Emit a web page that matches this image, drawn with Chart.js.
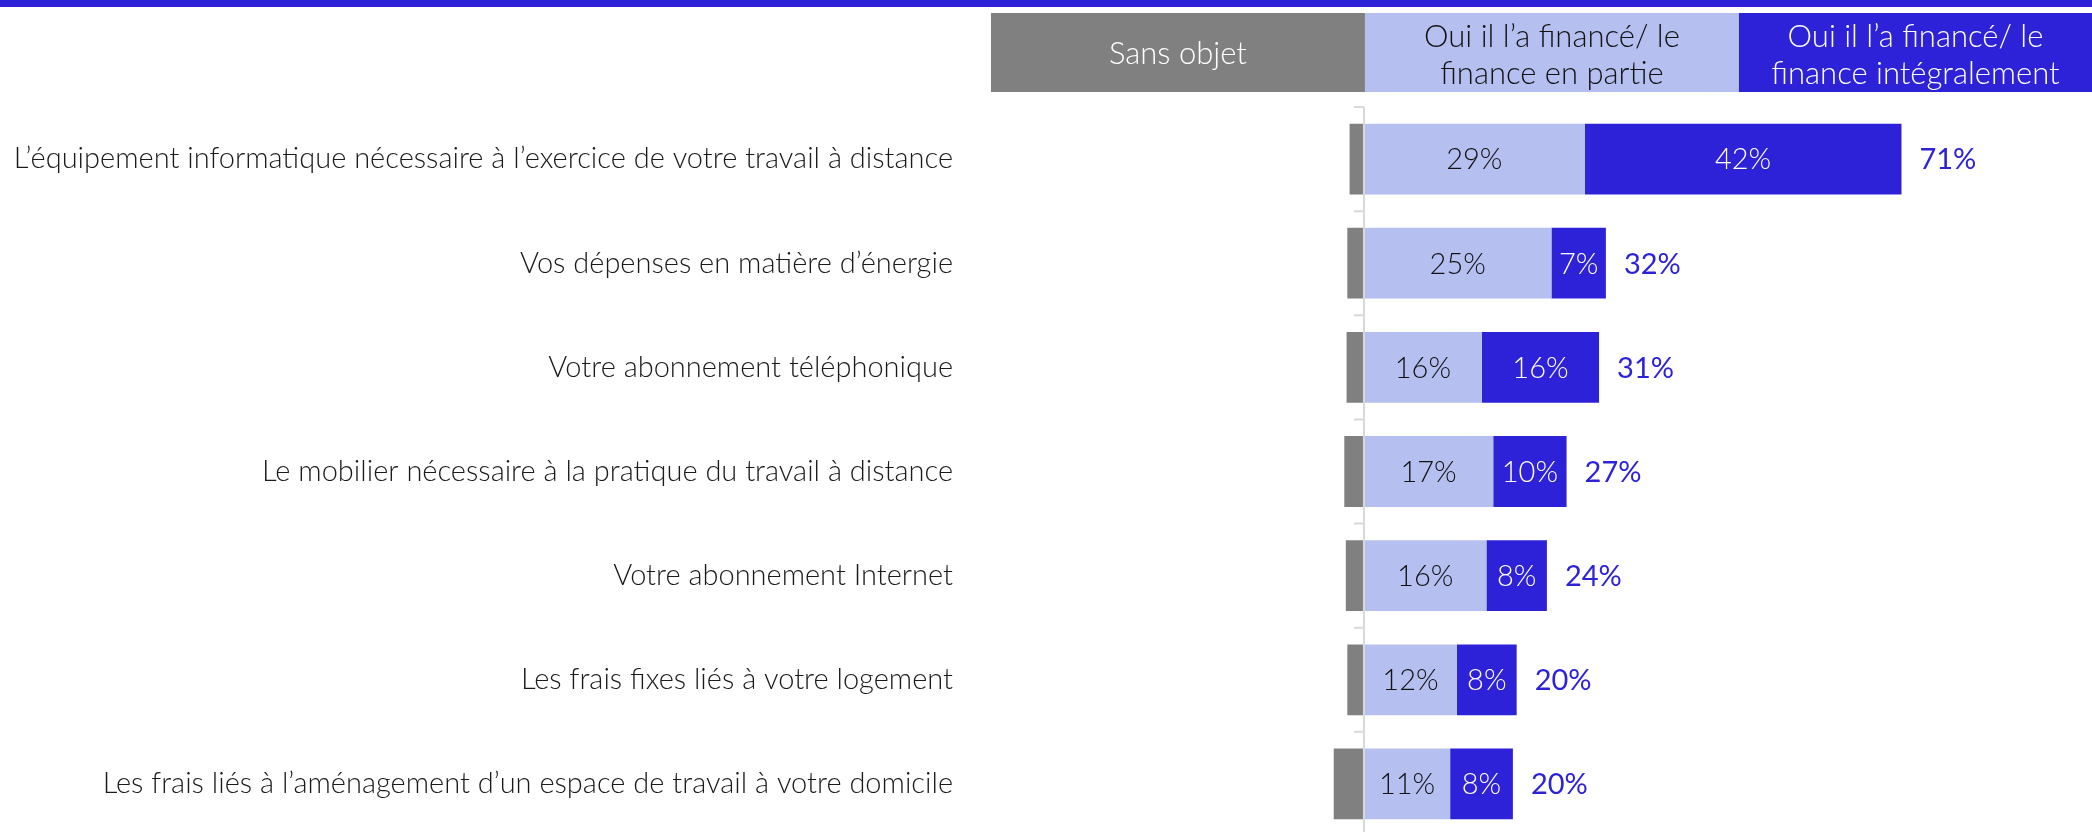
<!DOCTYPE html>
<html lang="fr">
<head>
<meta charset="utf-8">
<script src="https://cdn.jsdelivr.net/npm/chart.js@4/dist/chart.umd.min.js"></script>
<style>
  html, body { margin: 0; padding: 0; background: #fff; overflow: hidden; }
  #wrap { width: 2092px; height: 832px; overflow: hidden; }
</style>
</head>
<body>
<div id="wrap"><canvas id="financeChart" width="2092" height="840"></canvas></div>
<script>
const categories = [
  'L’équipement informatique nécessaire à l’exercice de votre travail à distance',
  'Vos dépenses en matière d’énergie',
  'Votre abonnement téléphonique',
  'Le mobilier nécessaire à la pratique du travail à distance',
  'Votre abonnement Internet',
  'Les frais fixes liés à votre logement',
  'Les frais liés à l’aménagement d’un espace de travail à votre domicile'
];
const seriesNames = [
  'Sans objet',
  'Oui il l’a financé/ le finance en partie',
  'Oui il l’a financé/ le finance intégralement'
];
// header text, one array of lines per series
const headerLines = [
  ['Sans objet'],
  ['Oui il l’a financé/ le', 'finance en partie'],
  ['Oui il l’a financé/ le', 'finance intégralement']
];
const sansObjet = [1.9, 2.2, 2.3, 2.6, 2.4, 2.2, 4.0];
const enPartie = [29.2, 24.8, 15.6, 17.1, 16.2, 12.3, 11.4];
const integralement = [41.9, 7.2, 15.5, 9.7, 8.0, 7.9, 8.3];

const GREY = '#808080';
const LIGHT = '#B6C0F0';
const BLUE = '#2E22D9';
const AXIS = '#d9d9d9';
const FONT = 'Lato, "Open Sans", sans-serif';

const pct = v => Math.round(v) + '%';

// blue strip + legend boxes across the top
const headerPlugin = {
  id: 'header',
  afterDraw(chart) {
    const { ctx, width } = chart;
    const zero = chart.scales.x.getPixelForValue(0);
    ctx.save();
    ctx.fillStyle = BLUE;
    ctx.fillRect(0, 0, width, 7);

    const boxW = 374, top = 13, h = 79;
    const lefts = [zero + 1 - boxW, zero + 1, zero + 1 + boxW];
    const fills = [GREY, LIGHT, BLUE];
    const inks = ['#fff', '#111', '#fff'];
    ctx.font = '300 31px ' + FONT;
    ctx.textAlign = 'center';
    ctx.textBaseline = 'middle';
    for (let i = 0; i < 3; i++) {
      const right = i === 2 ? width : lefts[i] + boxW;
      ctx.fillStyle = fills[i];
      ctx.fillRect(lefts[i], top, right - lefts[i], h);
      ctx.fillStyle = inks[i];
      const cx = (lefts[i] + right) / 2;
      const lines = headerLines[i];
      if (lines.length === 1) {
        ctx.fillText(lines[0], cx, top + h / 2 + 1);
      } else {
        ctx.fillText(lines[0], cx, top + 24);
        ctx.fillText(lines[1], cx, top + 61);
      }
    }
    ctx.restore();
  }
};

// vertical zero line with small ticks between categories
const zeroAxisPlugin = {
  id: 'zeroAxis',
  afterDatasetsDraw(chart) {
    const { ctx, chartArea } = chart;
    const x = chart.scales.x.getPixelForValue(0);
    const y = chart.scales.y;
    const step = y.getPixelForValue(1) - y.getPixelForValue(0);
    ctx.save();
    ctx.strokeStyle = AXIS;
    ctx.lineWidth = 2;
    ctx.beginPath();
    ctx.moveTo(x, chartArea.top);
    ctx.lineTo(x, chartArea.bottom);
    for (let i = 0; i <= categories.length; i++) {
      const ty = y.getPixelForValue(i) - step / 2;
      ctx.moveTo(x - 10, ty);
      ctx.lineTo(x, ty);
    }
    ctx.stroke();
    ctx.restore();
  }
};

// values inside the bars and totals to the right
const valueLabelsPlugin = {
  id: 'valueLabels',
  afterDatasetsDraw(chart) {
    const { ctx } = chart;
    ctx.save();
    ctx.textBaseline = 'middle';
    ctx.font = '300 29px ' + FONT;
    ctx.textAlign = 'center';
    [1, 2].forEach(di => {
      const ds = chart.data.datasets[di];
      chart.getDatasetMeta(di).data.forEach((bar, j) => {
        ctx.fillStyle = di === 1 ? '#111' : '#fff';
        ctx.fillText(pct(ds.data[j]), (bar.x + bar.base) / 2, bar.y + 1);
      });
    });
    ctx.font = '400 29px ' + FONT;
    ctx.textAlign = 'left';
    ctx.fillStyle = BLUE;
    chart.getDatasetMeta(2).data.forEach((bar, j) => {
      ctx.fillText(pct(enPartie[j] + integralement[j]), bar.x + 18, bar.y + 1);
    });
    ctx.restore();
  }
};

const ctx = document.getElementById('financeChart').getContext('2d');
new Chart(ctx, {
  type: 'bar',
  data: {
    labels: categories,
    datasets: [
      { label: seriesNames[0], data: sansObjet.map(v => -v), backgroundColor: GREY },
      { label: seriesNames[1], data: enPartie, backgroundColor: LIGHT },
      { label: seriesNames[2], data: integralement, backgroundColor: BLUE }
    ]
  },
  options: {
    indexAxis: 'y',
    responsive: false,
    animation: false,
    devicePixelRatio: 1,
    layout: { padding: { top: 107, bottom: 4, left: 0, right: 0 } },
    datasets: { bar: { barPercentage: 0.68, categoryPercentage: 1 } },
    scales: {
      x: { stacked: true, min: -53.3, max: 96.3, display: false },
      y: {
        stacked: true,
        grid: { display: false, drawTicks: false },
        border: { display: false },
        ticks: { color: '#1a1a1a', padding: 8, font: { family: FONT, size: 29, weight: '300' } },
        afterFit(scale) {
          scale.width = 961;
          scale.paddingTop = 0;
          scale.paddingBottom = 0;
        }
      }
    },
    plugins: {
      legend: { display: false },
      tooltip: { enabled: false }
    }
  },
  plugins: [headerPlugin, zeroAxisPlugin, valueLabelsPlugin]
});
</script>
</body>
</html>
